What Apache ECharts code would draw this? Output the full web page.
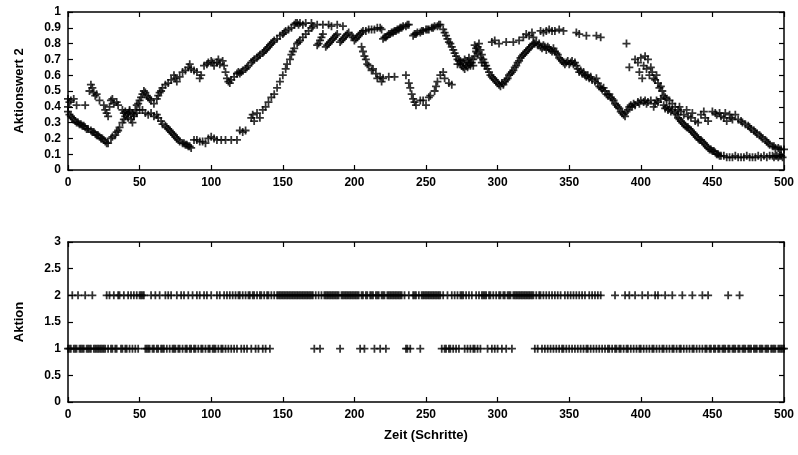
<!DOCTYPE html>
<html>
<head>
<meta charset="utf-8">
<script src="https://cdn.jsdelivr.net/npm/echarts@6/dist/echarts.min.js"></script>
<style>
html,body{margin:0;padding:0;background:#fff;}
#chart{width:798px;height:455px;}
</style>
</head>
<body>
<div id="chart"></div>
<script>
// ---- Data ----
const xTicks = [0, 50, 100, 150, 200, 250, 300, 350, 400, 450, 500];
const topYLabel = "Aktionswert 2";
const bottomYLabel = "Aktion";
const xLabel = "Zeit (Schritte)";

// Upper panel, curve A  [step, value]
const curveA = [[0,0.45],[1,0.43],[2,0.44],[4,0.45],[6,0.41],[12,0.41],[15,0.50],[16,0.54],[17,0.52],[18,0.49],[19,0.47],[20,0.48],[22,0.44],[25,0.41],[26,0.38],[27,0.36],[28,0.34],[29,0.40],[30,0.44],[31,0.45],[32,0.42],[34,0.43],[35,0.41],
[38,0.38],[39,0.36],[40,0.37],[41,0.35],[42,0.33],[43,0.38],[44,0.32],[45,0.30],[46,0.34],
[47,0.38],[48,0.41],[49,0.42],[50,0.44],[51,0.46],[52,0.48],[53,0.50],[54,0.49],[55,0.47],[56,0.46],[57,0.45],[58,0.44],[60,0.42],[62,0.45],[63,0.47],[64,0.49],[65,0.50],[66,0.52],[68,0.54],[70,0.55],[72,0.57],[74,0.60],[75,0.58],[76,0.56],[78,0.59],[80,0.62],[82,0.63],[84,0.65],[85,0.67],[86,0.64],[88,0.63],[90,0.62],[92,0.58],[93,0.60],[95,0.66],[97,0.67],[98,0.68],[100,0.69],[101,0.68],[102,0.66],[104,0.68],[105,0.70],[106,0.67],[108,0.69],[109,0.66],[110,0.62],[111,0.58],[112,0.56],[113,0.55],[114,0.57],[116,0.59],[118,0.61],[119,0.62],[120,0.61],[121,0.62],[122,0.63],[124,0.64],[125,0.65],[126,0.66],[128,0.68],[129,0.69],[130,0.70],[132,0.71],[133,0.72],[134,0.73],[136,0.74],[137,0.75],[138,0.76],[139,0.77],[140,0.78],[141,0.79],[142,0.80],[143,0.81],[144,0.82],[146,0.83],[148,0.85],[150,0.86],[151,0.87],[152,0.88],[154,0.89],[156,0.90],[158,0.92],[159,0.93],[160,0.93],[161,0.92],[162,0.93],[164,0.92],[166,0.93],[170,0.93],[174,0.92],[178,0.92],[182,0.92],[184,0.91],[188,0.92],[192,0.91],
[200,0.82],[201,0.83],[202,0.84],[203,0.85],[204,0.86],[205,0.87],[206,0.88],[208,0.88],[210,0.89],[212,0.89],[214,0.89],[216,0.90],[218,0.90],[219,0.89],
[220,0.83],[221,0.84],[222,0.84],[223,0.85],[224,0.86],[225,0.86],[226,0.87],[227,0.87],[228,0.88],[229,0.88],[230,0.89],[231,0.89],[232,0.90],[233,0.90],[234,0.91],[236,0.91],[237,0.92],[238,0.92],
[241,0.85],[242,0.86],[243,0.86],[244,0.87],[246,0.87],[247,0.88],[248,0.88],[250,0.89],[251,0.89],[252,0.89],[254,0.90],[255,0.90],[256,0.91],[258,0.91],[259,0.92],[260,0.92],
[262,0.89],[263,0.87],[264,0.85],[265,0.83],[266,0.81],[267,0.80],[268,0.78],[269,0.76],[270,0.74],[271,0.72],[272,0.70],[273,0.69],[274,0.67],[275,0.66],[276,0.65],[277,0.64],[278,0.66],[279,0.65],[280,0.67],[281,0.66],[282,0.68],[283,0.70],[284,0.72],[285,0.75],[286,0.78],[287,0.80],[288,0.76],[289,0.73],[290,0.70],[291,0.68],[292,0.66],[293,0.64],[294,0.62],[295,0.60],[296,0.59],[297,0.58],[298,0.57],[299,0.56],[300,0.55],[301,0.54],[302,0.53],[303,0.55],[304,0.54],[305,0.56],[306,0.57],[307,0.58],[308,0.60],[309,0.61],[310,0.62],[311,0.63],[312,0.65],[313,0.66],[314,0.68],[315,0.69],[316,0.71],[317,0.72],[318,0.73],[319,0.74],[320,0.75],[321,0.76],[322,0.77],[323,0.78],[324,0.79],[325,0.80],[326,0.80],[327,0.81],[328,0.79],[329,0.80],[330,0.78],[331,0.77],[332,0.79],[333,0.78],[334,0.76],[335,0.78],[336,0.77],[337,0.76],[338,0.75],[339,0.77],[340,0.75],[341,0.74],[342,0.73],[343,0.71],[344,0.70],[345,0.69],[346,0.68],[347,0.67],[348,0.68],[349,0.69],[350,0.67],[351,0.68],[352,0.69],[353,0.67],[354,0.68],[355,0.66],[356,0.64],[357,0.62],[358,0.63],[359,0.61],[360,0.62],[361,0.60],[362,0.59],[363,0.60],[364,0.58],[365,0.59],[366,0.57],[368,0.56],[369,0.58],[370,0.55],[371,0.53],[372,0.52],[373,0.51],[374,0.52],[375,0.50],[376,0.48],[377,0.47],[378,0.48],[379,0.46],[380,0.45],[381,0.44],[382,0.42],[383,0.41],[384,0.40],[385,0.39],[386,0.37],[387,0.36],[388,0.35],[389,0.34],[390,0.37],[391,0.38],[392,0.40],[393,0.41],[394,0.40],[395,0.42],[396,0.41],[398,0.43],[399,0.42],[400,0.44],[402,0.43],[403,0.44],[404,0.42],[405,0.43],[407,0.44],[409,0.40],[410,0.42],[411,0.44],[412,0.43],[414,0.45],[416,0.41],[417,0.39],[418,0.40],[419,0.38],[420,0.39],[421,0.37],[422,0.38],[424,0.36],[425,0.35],[426,0.33],[427,0.32],[428,0.31],[429,0.30],[430,0.29],[431,0.28],[432,0.27],[433,0.27],[434,0.26],[435,0.25],[436,0.24],[437,0.23],[438,0.22],[439,0.21],[440,0.20],[441,0.19],[442,0.19],[443,0.18],[444,0.17],[445,0.16],[446,0.15],[447,0.14],[448,0.13],[449,0.13],[450,0.12],[451,0.12],[452,0.11],[453,0.10],[454,0.10],[455,0.09],[456,0.09],[458,0.09],[460,0.08],[462,0.08],[464,0.08],[466,0.09],[468,0.08],[470,0.08],[472,0.08],[474,0.09],[476,0.08],[478,0.08],[480,0.08],[482,0.09],[484,0.08],[486,0.09],[488,0.08],[490,0.09],[492,0.09],[493,0.08],[494,0.09],[495,0.09],[496,0.08],[497,0.09],[498,0.09],[499,0.08]];

// Upper panel, curve B  [step, value]
const curveB = [[0,0.37],[0,0.40],[1,0.35],[2,0.34],[3,0.33],[4,0.32],[5,0.31],[6,0.30],[7,0.30],[8,0.29],[9,0.29],[10,0.28],[11,0.28],[12,0.27],[13,0.26],[14,0.26],[16,0.25],[17,0.24],[18,0.24],[19,0.23],[20,0.22],[21,0.22],[22,0.21],[23,0.20],[24,0.20],[25,0.19],[26,0.18],[27,0.17],[28,0.17],[30,0.20],[31,0.21],[33,0.22],[34,0.24],[35,0.25],[36,0.27],[38,0.30],[39,0.32],[40,0.34],[42,0.36],[43,0.37],[45,0.36],[46,0.35],[48,0.36],[50,0.38],[52,0.38],[54,0.36],[56,0.35],[58,0.36],[60,0.34],[62,0.35],[63,0.33],[65,0.31],[66,0.29],[68,0.28],[69,0.27],[70,0.26],[71,0.25],[72,0.24],[73,0.23],[74,0.22],[75,0.21],[76,0.20],[77,0.19],[78,0.18],[80,0.17],[81,0.17],[82,0.16],[83,0.16],[84,0.15],[85,0.15],[86,0.14],[88,0.19],[90,0.19],[92,0.18],[94,0.18],[96,0.17],[98,0.20],[100,0.21],[102,0.20],[104,0.19],[107,0.19],[110,0.19],[114,0.19],[118,0.19],[120,0.25],[122,0.24],[124,0.25],[128,0.33],[129,0.35],[130,0.31],[132,0.36],[134,0.33],[136,0.38],[138,0.40],[140,0.43],[142,0.46],[144,0.48],[146,0.52],[148,0.56],[150,0.60],[152,0.64],[153,0.67],[155,0.70],[156,0.73],[157,0.75],[158,0.77],[160,0.80],[161,0.81],[162,0.82],[164,0.84],[166,0.86],[168,0.88],[170,0.90],[171,0.91],
[174,0.79],[175,0.80],[176,0.82],[177,0.84],[178,0.86],[180,0.78],[181,0.79],[182,0.80],[183,0.81],[184,0.82],[185,0.83],[186,0.84],[187,0.85],[188,0.86],[190,0.81],[191,0.82],[192,0.83],[193,0.84],[194,0.85],[195,0.86],[196,0.87],[198,0.85],[199,0.84],
[205,0.78],[206,0.75],[207,0.72],[208,0.70],[209,0.67],[210,0.66],[212,0.63],[213,0.64],[215,0.61],[216,0.58],[218,0.59],[219,0.56],[220,0.58],[224,0.59],[228,0.59],[236,0.60],[238,0.55],[239,0.52],[240,0.48],[241,0.45],[242,0.43],[243,0.41],[246,0.44],[248,0.44],[250,0.41],[252,0.46],[253,0.47],[256,0.50],[257,0.53],[258,0.56],[260,0.60],[262,0.62],[263,0.58],[266,0.55],[268,0.54],
[272,0.67],[274,0.69],[276,0.68],[277,0.70],[279,0.69],[280,0.71],[281,0.68],[283,0.66],[284,0.79],[285,0.77],[286,0.74],[288,0.71],[289,0.68],[291,0.66],
[296,0.81],[298,0.82],[301,0.80],[306,0.81],[311,0.81],[315,0.82],[318,0.84],[320,0.86],[322,0.85],[324,0.87],[325,0.84],[330,0.88],[332,0.87],[334,0.88],[336,0.89],[338,0.88],[340,0.88],[343,0.89],[346,0.88],[355,0.87],[357,0.86],[362,0.85],[369,0.85],[372,0.84],[390,0.80],
[392,0.65],[396,0.70],[398,0.68],[399,0.62],[400,0.71],[401,0.58],[402,0.66],[403,0.72],[404,0.64],[405,0.70],[406,0.60],[407,0.65],[408,0.62],[409,0.58],[410,0.57],[411,0.60],[412,0.55],[413,0.52],[414,0.53],[415,0.50],[416,0.47],[417,0.46],[418,0.45],[420,0.44],[422,0.42],[424,0.40],[426,0.38],[427,0.40],[428,0.37],[430,0.35],[432,0.38],[433,0.34],[435,0.33],[436,0.36],[438,0.31],[440,0.30],[442,0.35],[444,0.37],[445,0.33],[447,0.31],
[450,0.37],[452,0.36],[453,0.35],[455,0.36],[456,0.34],[458,0.33],[459,0.36],[460,0.31],[462,0.35],[463,0.33],[464,0.32],[466,0.35],[468,0.32],[470,0.31],[471,0.30],[473,0.29],[475,0.28],[476,0.27],[477,0.26],[479,0.25],[480,0.24],[481,0.23],[483,0.22],[484,0.21],[485,0.20],[487,0.19],[488,0.18],[489,0.17],[490,0.16],[492,0.15],[493,0.15],[494,0.14],[496,0.14],[497,0.13],[498,0.13],[500,0.13]];

// Lower panel: steps at which action 1 / action 2 was chosen
const action1Steps = [0,1,2,4,5,6,8,9,10,11,13,14,15,16,18,19,20,21,22,23,24,25,26,28,30,31,33,34,37,38,40,41,43,45,47,49,54,55,56,57,59,60,62,63,65,66,67,69,71,73,74,75,77,78,80,82,83,85,86,88,89,91,93,94,96,98,99,101,102,103,105,107,108,110,112,114,116,118,121,123,125,128,131,133,136,138,141,
172,176,190,204,207,214,218,222,
236,237,239,246,
261,263,264,266,267,269,271,273,277,279,281,283,284,286,288,293,296,298,300,303,306,310,
326,328,331,333,335,337,339,341,343,345,346,348,350,352,354,356,358,360,362,363,365,367,369,371,373,375,377,378,380,382,383,385,386,388,390,391,393,395,397,399,400,402,404,406,408,409,411,413,415,416,418,420,422,423,425,427,428,430,432,434,436,437,439,441,443,445,446,448,449,451,452,454,455,457,458,459,461,462,464,465,466,468,469,471,472,473,475,476,477,479,480,481,483,484,485,487,488,489,491,492,493,494,496,497,498,499,500];

const action2Steps = [3,7,12,17,
27,29,32,35,36,39,42,44,46,48,50,51,52,53,
58,61,64,68,70,72,76,79,81,84,87,90,92,95,97,100,104,106,109,111,113,115,117,119,120,122,124,126,127,129,130,132,134,135,137,139,140,142,144,146,147,148,149,150,151,152,153,154,155,156,157,158,159,160,161,162,163,164,165,166,167,168,169,170,171,173,175,177,179,180,181,182,183,184,185,186,187,188,189,191,192,193,194,195,196,197,198,199,200,201,202,203,205,206,208,209,211,212,213,215,216,217,219,220,221,223,224,225,226,227,228,229,230,231,232,233,235,238,241,242,243,245,247,248,249,250,251,252,253,254,255,256,257,258,259,260,262,265,268,270,272,274,275,276,278,280,282,285,287,289,290,291,292,294,295,297,299,301,302,304,305,307,308,309,311,312,313,314,315,316,317,318,319,320,321,322,323,324,325,327,329,330,332,334,336,338,340,342,344,347,349,351,353,355,357,359,361,364,366,368,370,372,
382,389,392,396,401,405,410,412,417,422,429,436,443,447,
461,469];

// ---- Chart ----
const plus = 'path://M3.9,0 L6.1,0 L6.1,3.9 L10,3.9 L10,6.1 L6.1,6.1 L6.1,10 L3.9,10 L3.9,6.1 L0,6.1 L0,3.9 L3.9,3.9 Z';
const FONT = '"Liberation Sans", Arial, sans-serif';
const lineStyle = {color:'#000', width:1.5};
const labelStyle = {color:'#000', fontFamily:FONT, fontSize:12, fontWeight:'bold'};

function mainX(grid, withName){
  return {
    gridIndex:grid, type:'value', position:'bottom', min:0, max:500, interval:50,
    axisLine:{show:true, lineStyle:lineStyle},
    axisTick:{show:true, inside:true, length:5, lineStyle:{color:'#000', width:1.2}},
    axisLabel:Object.assign({margin:7}, labelStyle),
    splitLine:{show:false},
    name: withName ? xLabel : '',
    nameLocation:'middle', nameGap:27,
    nameTextStyle:{color:'#000', fontFamily:FONT, fontSize:13, fontWeight:'bold'}
  };
}
function mirrorX(grid){
  return {
    gridIndex:grid, type:'value', position:'top', min:0, max:500, interval:50,
    axisLine:{show:true, onZero:false, lineStyle:lineStyle},
    axisTick:{show:true, inside:true, length:5, lineStyle:{color:'#000', width:1.2}},
    axisLabel:{show:false}, splitLine:{show:false}
  };
}
function mainY(grid, max, interval, name){
  return {
    gridIndex:grid, type:'value', position:'left', min:0, max:max, interval:interval,
    axisLine:{show:true, onZero:false, lineStyle:lineStyle},
    axisTick:{show:true, inside:true, length:5, lineStyle:{color:'#000', width:1.2}},
    axisLabel:Object.assign({margin:7}, labelStyle),
    splitLine:{show:false},
    name:name, nameLocation:'middle', nameGap:42,
    nameTextStyle:{color:'#000', fontFamily:FONT, fontSize:13, fontWeight:'bold'}
  };
}
function mirrorY(grid, max, interval){
  return {
    gridIndex:grid, type:'value', position:'right', min:0, max:max, interval:interval,
    axisLine:{show:true, onZero:false, lineStyle:lineStyle},
    axisTick:{show:true, inside:true, length:5, lineStyle:{color:'#000', width:1.2}},
    axisLabel:{show:false}, splitLine:{show:false}
  };
}

const chart = echarts.init(document.getElementById('chart'), null, {renderer:'canvas'});
const scatterBase = {type:'scatter', symbol:plus, symbolSize:8, itemStyle:{color:'#000'}, silent:true};

chart.setOption({
  animation:false,
  backgroundColor:'#fff',
  grid:[
    {left:68, right:14, top:12, height:158},
    {left:68, right:14, top:242, height:160}
  ],
  xAxis:[mainX(0,false), mirrorX(0), mainX(1,true), mirrorX(1)],
  yAxis:[mainY(0,1,0.1,topYLabel), mirrorY(0,1,0.1), mainY(1,3,0.5,bottomYLabel), mirrorY(1,3,0.5)],
  series:[
    Object.assign({name:'A', xAxisIndex:0, yAxisIndex:0, data:curveA}, scatterBase),
    Object.assign({name:'B', xAxisIndex:0, yAxisIndex:0, data:curveB}, scatterBase),
    Object.assign({name:'Aktion 1', xAxisIndex:2, yAxisIndex:2, data:action1Steps.map(s=>[s,1])}, scatterBase),
    Object.assign({name:'Aktion 2', xAxisIndex:2, yAxisIndex:2, data:action2Steps.map(s=>[s,2])}, scatterBase)
  ]
});
</script>
</body>
</html>
